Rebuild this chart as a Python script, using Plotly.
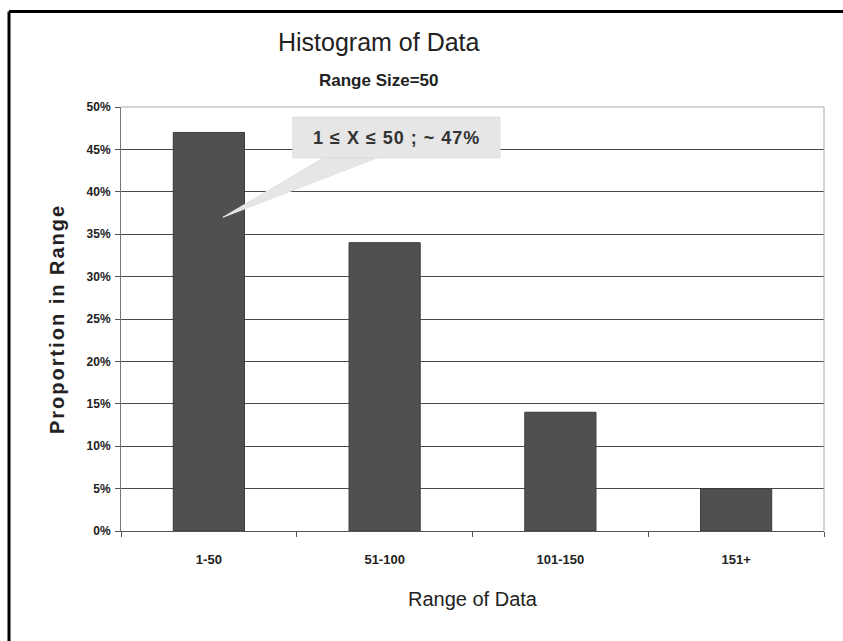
import plotly.graph_objects as go

# Histogram bins and the share of observations falling in each
ranges = ["1-50", "51-100", "101-150", "151+"]
proportions = [0.47, 0.34, 0.14, 0.05]

y_ticks = [0, 0.05, 0.10, 0.15, 0.20, 0.25, 0.30, 0.35, 0.40, 0.45, 0.50]
y_tick_text = ["0%", "5%", "10%", "15%", "20%", "25%", "30%", "35%", "40%", "45%", "50%"]

title_text = "Histogram of Data"
subtitle_text = "Range Size=50"
callout_text = "1 ≤ X ≤ 50 ; ~ 47%"

SANS = "Liberation Sans, Arial, sans-serif"
INK = "#222222"
W, H = 843, 641
ML, MR, MT, MB = 121, 19, 107, 110
PW, PH = W - ML - MR, H - MT - MB


def px(x):
    """Horizontal pixel position -> paper coordinate."""
    return (x - ML) / PW


def py(y):
    """Vertical pixel position (from top) -> paper coordinate."""
    return (H - MB - y) / PH


fig = go.Figure()
fig.add_trace(go.Bar(
    x=ranges,
    y=proportions,
    marker=dict(color="#505050", line=dict(color="#3a3a3a", width=1)),
    hoverinfo="skip",
))

# Callout bubble pointing at the first bin
fig.add_shape(
    type="path",
    xref="x", yref="y",
    path="M 0.66 0.441 L 0.08 0.370 L 0.97 0.441 Z",
    fillcolor="#e6e6e6", line=dict(color="#e2e2e2", width=1), layer="above",
)
fig.add_shape(
    type="rect",
    xref="x", yref="y",
    x0=0.478, x1=1.656, y0=0.44, y1=0.488,
    fillcolor="#e6e6e6", line=dict(color="#dcdcdc", width=1), layer="above",
)
fig.add_annotation(
    x=1.067, y=0.464, xref="x", yref="y",
    text="<b><span style='letter-spacing:1px'>" + callout_text + "</span></b>",
    showarrow=False,
    font=dict(family=SANS, size=18, color="#333333"),
)

# Titles
fig.add_annotation(
    x=px(379), y=py(42), xref="paper", yref="paper",
    text=title_text, showarrow=False, xanchor="center", yanchor="middle",
    font=dict(family=SANS, size=25, color=INK),
)
fig.add_annotation(
    x=px(379), y=py(80), xref="paper", yref="paper",
    text="<b>" + subtitle_text + "</b>", showarrow=False,
    xanchor="center", yanchor="middle",
    font=dict(family=SANS, size=17, color=INK),
)

# Frame lines at the top and left of the chart
fig.add_shape(type="line", xref="paper", yref="paper",
              x0=px(9), x1=px(850), y0=py(11.5), y1=py(11.5),
              line=dict(color="black", width=3))
fig.add_shape(type="line", xref="paper", yref="paper",
              x0=px(9), x1=px(9), y0=py(11.5), y1=py(650),
              line=dict(color="black", width=3))

fig.update_layout(
    width=W, height=H,
    margin=dict(l=ML, r=MR, t=MT, b=MB),
    paper_bgcolor="white",
    plot_bgcolor="white",
    showlegend=False,
    bargap=0.595,
    xaxis=dict(
        type="category",
        showline=True, linecolor="#555555", linewidth=1,
        ticks="outside", ticklen=5, tickcolor="#555555",
        tickson="boundaries",
        ticklabelstandoff=16,
        showgrid=False,
        tickfont=dict(family=SANS, size=13, color=INK, weight="bold"),
        title=dict(text="Range of Data", standoff=26,
                   font=dict(family=SANS, size=20, color=INK)),
    ),
    yaxis=dict(
        range=[0, 0.5],
        tickvals=y_ticks, ticktext=y_tick_text,
        showline=True, linecolor="#777777", linewidth=1,
        ticks="outside", ticklen=5, tickcolor="#555555",
        ticklabelstandoff=2,
        showgrid=True, gridcolor="#4a4a4a", gridwidth=1,
        zeroline=False,
        tickfont=dict(family=SANS, size=12, color=INK, weight="bold"),
        title=dict(text="<b><span style='letter-spacing:2px'>Proportion in Range</span></b>",
                   standoff=16,
                   font=dict(family=SANS, size=20, color=INK)),
    ),
)

# Light outline on the right and top edges of the plot area
fig.add_shape(type="line", xref="paper", yref="paper",
              x0=1, x1=1, y0=0, y1=1, line=dict(color="#aaaaaa", width=1))
fig.add_shape(type="line", xref="paper", yref="paper",
              x0=0, x1=1, y0=1, y1=1, line=dict(color="#aaaaaa", width=1))

fig.write_html("out.html")
